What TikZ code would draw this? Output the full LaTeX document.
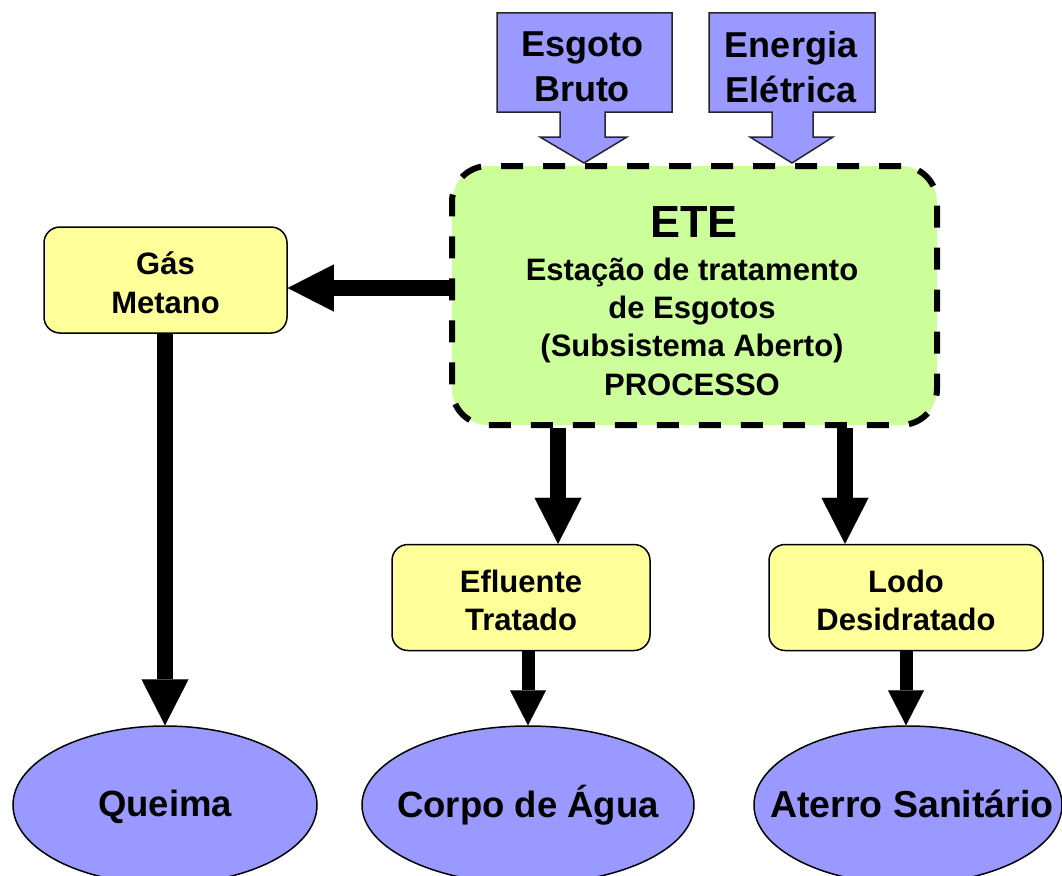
\documentclass[tikz,border=0pt]{standalone}
\usepackage{fontspec}
\setmainfont{Liberation Sans}
\usetikzlibrary{arrows.meta,shapes.geometric,calc}
\definecolor{purp}{RGB}{153,153,255}
\definecolor{ylw}{RGB}{255,255,153}
\definecolor{grn}{RGB}{204,255,153}
\begin{document}
\begin{tikzpicture}[x=1pt,y=-1pt,
  ybox/.style={draw=black,line width=1.5pt,fill=ylw,rounded corners=16pt,minimum height=106pt,inner sep=0pt},
  btext/.style={align=center,inner sep=0pt,font=\bfseries\fontsize{31}{38.5}\selectfont},
  oval/.style={ellipse,draw=black,line width=1.5pt,fill=purp,minimum height=158pt,inner sep=0pt},
  otext/.style={inner sep=0pt,anchor=base,font=\bfseries\fontsize{36.5}{44}\selectfont},
  inshape/.style={draw=black!85,line width=1.5pt,fill=purp,line join=miter},
  intext/.style={align=center,inner sep=0pt,font=\bfseries\fontsize{36}{45}\selectfont},
  bigarrow/.style={line width=15.5pt,-{Triangle[width=47pt,length=46pt,line width=0.01pt]}},
  smallarrow/.style={line width=13pt,-{Triangle[width=36pt,length=35pt,line width=0.01pt]}},
  etebody/.style={align=center,inner sep=0pt,font=\bfseries\fontsize{31}{38.3}\selectfont}]
\clip (0,0) rectangle (1062,875);
% input block arrows
\filldraw[inshape] (497,13) -- (672,13) -- (672,112) -- (605,112) -- (605,137) -- (627,137) -- (584,163) -- (540,137) -- (560,137) -- (560,112) -- (497,112) -- cycle;
\filldraw[inshape] (709,13) -- (875,13) -- (875,112) -- (813,112) -- (813,137) -- (833,137) -- (792,163) -- (750,137) -- (772,137) -- (772,112) -- (709,112) -- cycle;
\node[intext] (esg) at (582,67) {Esgoto\\Bruto};
\node[intext] (ene) at (791,67) {Energia\\Elétrica};
% ETE box
\node[draw=black,line width=6pt,dash pattern=on 22pt off 20pt,fill=grn,rounded corners=36pt,minimum width=485pt,minimum height=259pt,inner sep=0pt] (ete) at (694.5,295.5) {};
\node[inner sep=0pt,font=\bfseries\fontsize{45}{50}\selectfont,anchor=base] (etetitle) at (694,237) {ETE};
\node[etebody] (etetext) at (692,326.5) {Estação de tratamento\\de Esgotos\\(Subsistema Aberto)\\PROCESSO};
% output boxes
\node[ybox,minimum width=243pt] (gas) at (165.5,280) {};
\node[btext] (gastext) at ($(gas.center)+(0,3)$) {Gás\\Metano};
\node[ybox,minimum width=258pt] (efl) at (521,597.5) {};
\node[btext] (efltext) at ($(efl.center)+(0,3)$) {Efluente\\Tratado};
\node[ybox,minimum width=274pt] (lodo) at (906,597.5) {};
\node[btext] (lodotext) at ($(lodo.center)+(0,3)$) {Lodo\\Desidratado};
% ellipses
\node[oval,minimum width=304pt] (queima) at (165,805) {};
\node[otext] (queimatext) at (165,816) {Queima};
\node[oval,minimum width=332pt] (corpo) at (528,805) {};
\node[otext] (corpotext) at (528,817) {Corpo de Água};
\node[oval,minimum width=308pt] (aterro) at (908,805) {};
\node[otext,font=\bfseries\fontsize{37.5}{44}\selectfont] (aterrotext) at (912,817) {Aterro Sanitário};
% connectors
\draw[bigarrow] (ete.west |- 0,288) -- (gas.east |- 0,288);
\draw[bigarrow] (gas.south -| 165,0) -- (queima.north -| 165,0);
\draw[bigarrow] (ete.south -| 558,0) -- (efl.north -| 558,0);
\draw[bigarrow] (ete.south -| 845,0) -- (lodo.north -| 845,0);
\draw[smallarrow] (efl.south -| corpo.north) -- (corpo.north);
\draw[smallarrow] (lodo.south -| 906,0) -- (aterro.north -| 906,0);
\end{tikzpicture}
\end{document}
